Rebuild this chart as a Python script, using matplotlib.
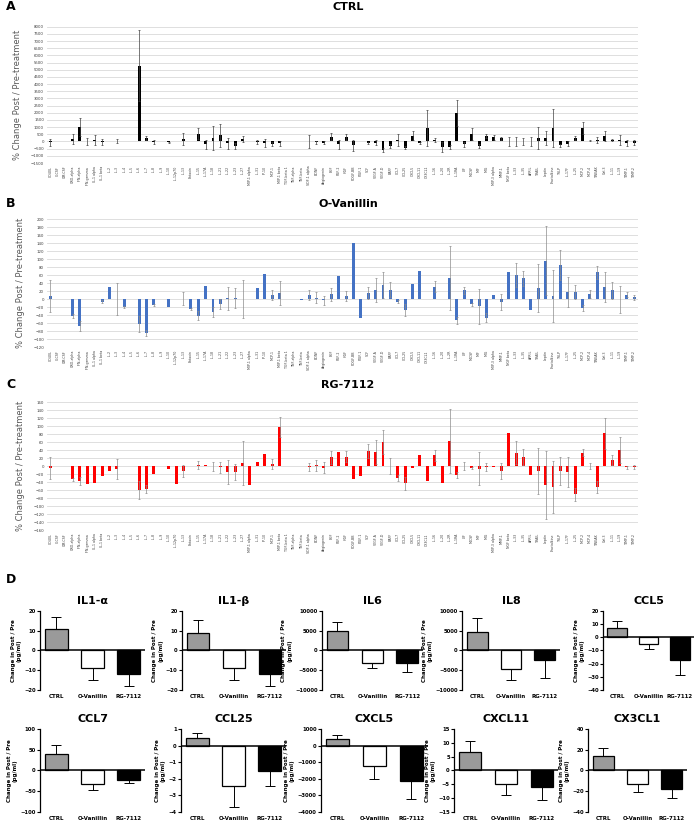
import numpy as np
import matplotlib
matplotlib.use("Agg")
import matplotlib.pyplot as plt

W, H = 696, 821
nan = np.nan

# analyte names on the x axis (panels A-C)
analytes = [
    "CD40L", "G-CSF", "GM-CSF", "GRO-alpha", "IFN-alpha", "IFN-gamma", "IL-1 alpha", "IL-1 beta",
    "IL-2", "IL-3", "IL-4", "IL-5", "IL-6", "IL-7", "IL-8", "IL-9", "IL-10", "IL-12p70", "IL-13", "Eotaxin",
    "IL-15", "IL-17A", "IL-18", "IL-21", "IL-22", "IL-23", "IL-27", "MIP-1 alpha", "IL-31", "IP-10",
    "MCP-1", "MIP-1 beta", "TGF-beta 1", "TNF-alpha", "TNF-beta", "SDF-1 alpha", "BDNF", "Angiogenin", "EGF", "FGF-2",
    "HGF", "PDGF-BB", "PlGF-1", "SCF", "VEGF-A", "VEGF-D", "BAFF", "CCL7", "CCL25", "CXCL5",
    "CXCL11", "CX3CL1", "IL-16", "IL-20", "IL-2R", "IL-1RA", "LIF", "M-CSF", "MIF", "MIG",
    "MIP-3 alpha", "MMP-1", "NGF beta", "IL-33", "IL-35", "APRIL", "TRAIL", "Leptin", "Fractalkine", "TSLP",
    "IL-17F", "IL-25", "MCP-2", "MCP-4", "TWEAK", "Gal-3", "IL-11", "IL-19", "TIMP-1", "TIMP-2"]

ctrl_pct = [-50, nan, nan, 140, 1000, 0, 100, -50, nan, 40,
            nan, nan, 5280, 250, -30, nan, -50, nan, 190, nan,
            535, -210, 250, 440, -140, -300, 190, nan, -50, -100,
            -200, -130, nan, nan, nan, 0, -70, -80, 330, -190,
            330, -280, nan, -100, -80, -600, -320, 90, -420, 400,
            -100, 930, 100, -400, -370, 1980, -200, 510, -300, 400,
            280, 210, 0, 0, 0, 0, 250, 250, 930, -280,
            -150, 230, 930, 50, 120, 370, 80, 100, -100, -80]
ctrl_err = [250, 0, 0, 350, 630, 250, 380, 200, 0, 150,
            0, 0, 2490, 150, 150, 0, 30, 0, 420, 0,
            370, 330, 850, 810, 350, 200, 200, 0, 150, 250,
            130, 180, 0, 0, 0, 450, 80, 80, 230, 300,
            200, 370, 0, 80, 150, 120, 150, 400, 80, 300,
            80, 1230, 120, 330, 120, 900, 150, 420, 150, 150,
            150, 100, 300, 300, 250, 330, 770, 500, 1330, 120,
            150, 140, 400, 50, 200, 350, 80, 350, 200, 150]

ov_pct = [8, nan, nan, -43, -67, nan, nan, -6, 30, 0,
          -20, nan, -62, -85, -15, nan, -19, nan, 1, -24,
          -41, 32, -32, -12, 2, 2, 0, nan, 28, 62,
          11, 15, nan, nan, -2, 10, 4, -3, 12, 58,
          8, 140, -48, 15, 22, 36, 24, -6, -28, 37,
          70, nan, 31, nan, 54, -53, 22, -13, -18, -46,
          11, -8, 68, 61, 52, -27, 28, 96, 8, 85,
          18, 18, -22, 13, 67, 31, 22, 0, 11, 5]
ov_err = [40, 0, 0, 5, 12, 0, 0, 3, 0, 40,
          2, 0, 21, 7, 2, 0, 0, 0, 16, 2,
          12, 0, 12, 12, 28, 25, 48, 0, 0, 0,
          12, 30, 0, 0, 0, 12, 14, 12, 16, 0,
          12, 0, 0, 15, 30, 32, 18, 4, 15, 0,
          0, 0, 14, 0, 80, 8, 8, 3, 43, 12,
          0, 20, 0, 30, 19, 0, 59, 86, 64, 38,
          37, 18, 8, 10, 16, 38, 21, 34, 6, 6]

rg_pct = [-5, nan, nan, -33, -37, -45, -41, -24, -13, -7,
          nan, nan, -59, -57, -19, nan, -7, -44, -12, nan,
          3, 2, 0, -3, -15, -14, 8, -46, 11, 31,
          5, 99, nan, nan, nan, -2, 2, -4, 22, 35,
          24, -32, -24, 38, 36, 61, 1, -29, -43, -4,
          27, -36, 27, -41, 63, -22, 0, -4, -6, -3,
          -3, -12, 83, 34, 22, -21, -12, -47, -52, -13,
          -15, -70, 34, 0, -51, 83, 15, 40, -3, -3]
rg_err = [28, 0, 0, 3, 11, 0, 0, 0, 0, 24,
          0, 0, 23, 10, 0, 0, 0, 0, 15, 0,
          10, 0, 11, 13, 30, 20, 55, 0, 0, 0,
          12, 25, 0, 0, 0, 9, 14, 14, 16, 0,
          14, 0, 0, 17, 30, 30, 20, 7, 17, 0,
          0, 0, 14, 0, 80, 8, 10, 3, 42, 10,
          0, 20, 0, 29, 20, 0, 57, 86, 64, 35,
          37, 16, 8, 7, 15, 39, 13, 33, 4, 5]

# panel D: mean change (pg/ml) and SEM for CTRL, O-Vanillin, RG-7112
groups = ["CTRL", "O-Vanillin", "RG-7112"]
d_titles = ["IL1-\u03b1", "IL1-\u03b2", "IL6", "IL8", "CCL5",
            "CCL7", "CCL25", "CXCL5", "CXCL11", "CX3CL1"]
d_means = [[11, -9, -12], [9, -9, -12], [4800, -3100, -3100], [4600, -4700, -2400], [6.8, -4.9, -17],
           [41, -32, -23], [0.45, -2.42, -1.56], [410, -1220, -2160], [6.8, -5.1, -6.2], [14.3, -13, -18.5]]
d_errs = [[6, 6, 6], [6.5, 6, 6], [2270, 1450, 2350], [3600, 2700, 4600], [5.2, 4.1, 12],
          [20, 15, 8], [0.32, 1.28, 0.86], [220, 820, 1110], [3.8, 4.0, 4.6], [7.7, 8.5, 8.5]]
d_ylims = [(-20, 20), (-20, 20), (-10000, 10000), (-10000, 10000), (-40, 20),
           (-100, 100), (-4, 1), (-4000, 1000), (-15, 15), (-40, 40)]
d_steps = [10, 10, 5000, 5000, 10, 50, 1, 1000, 5, 20]

fig = plt.figure(figsize=(W / 100, H / 100), dpi=100)


def px_axes(x0, y0, x1, y1):
    return fig.add_axes([x0 / W, 1 - y1 / H, (x1 - x0) / W, (y1 - y0) / H])


def pct_panel(top, bottom, vals, errs, ylim, step, color, ecolor, letter, title, ty):
    ax = px_axes(46.7, top, 638, bottom)
    x = np.arange(len(analytes))
    vals = np.array(vals, dtype=float)
    errs = np.array(errs, dtype=float)
    ax.bar(x, vals, width=0.4, color=color, zorder=3)
    m = (errs > 0) & ~np.isnan(vals)
    ax.errorbar(x[m], vals[m], yerr=errs[m], fmt="none", ecolor=ecolor,
                elinewidth=0.5, capsize=0.8, capthick=0.5, zorder=4)
    ax.set_xlim(-0.5, len(analytes) - 0.5)
    ax.set_ylim(*ylim)
    ax.set_yticks(np.arange(ylim[0], ylim[1] + step / 2, step))
    ax.yaxis.grid(True, color="#d9d9d9", lw=0.6, zorder=0)
    for s in ax.spines.values():
        s.set_visible(False)
    ax.set_xticks(x)
    ax.set_xticklabels(analytes, rotation=90, fontsize=2.3, color="#404040")
    ax.tick_params(axis="both", length=0, pad=2)
    ax.tick_params(axis="y", labelsize=2.8, labelcolor="#404040")
    ax.set_ylabel("% Change Post / Pre-treatment", fontsize=6, color="#595959", labelpad=6)
    fig.text(6 / W, 1 - (ty - 2) / H, letter, fontsize=9, fontweight="bold", va="top")
    fig.text(348 / W, 1 - ty / H, title, fontsize=8, fontweight="bold", va="top", ha="center")
    return ax


pct_panel(26.7, 163, ctrl_pct, ctrl_err, (-1500, 8000), 500, "black", "#404040", "A", "CTRL", 2)
pct_panel(219.3, 347.3, ov_pct, ov_err, (-120, 200), 20, "#4472C4", "#8c8c8c", "B", "O-Vanillin", 199)
pct_panel(402.3, 530.3, rg_pct, rg_err, (-160, 160), 20, "#FF0000", "#8c8c8c", "C", "RG-7112", 380)

fig.text(6 / W, 1 - 573 / H, "D", fontsize=9, fontweight="bold", va="top")

# pixel boxes of the ten small panels
d_boxes = [(40, 610.7, 145, 690), (181.7, 610.7, 286, 690), (321.7, 610.7, 423, 690),
           (462, 610.7, 560, 690), (603, 610.7, 694, 690),
           (40, 729.3, 145, 811.5), (181, 729.3, 286, 811.5), (320.7, 729.3, 428, 811.5),
           (454, 729.3, 558, 811.5), (588, 729.3, 687, 811.5)]
bar_colors = ["#9a9a9a", "white", "black"]

for k in range(10):
    x0, y0, x1, y1 = d_boxes[k]
    ax = px_axes(x0, y0, x1, y1)
    means = np.array(d_means[k])
    errs = np.array(d_errs[k])
    xs = np.arange(3)
    ax.bar(xs, means, width=0.62, color=bar_colors, edgecolor="black", linewidth=0.9, zorder=3)
    lo = np.where(means < 0, errs, 0)
    hi = np.where(means > 0, errs, 0)
    ax.errorbar(xs, means, yerr=[lo, hi], fmt="none", ecolor="black",
                elinewidth=0.7, capsize=3.5, capthick=0.7, zorder=2)
    ax.axhline(0, color="black", lw=1.1, zorder=4)
    ax.set_xlim(-0.45, 2.45)
    lo_y, hi_y = d_ylims[k]
    ax.set_ylim(lo_y, hi_y)
    ax.set_yticks(np.arange(lo_y, hi_y + d_steps[k] / 2, d_steps[k]))
    for s in ["top", "right", "bottom"]:
        ax.spines[s].set_visible(False)
    ax.spines["left"].set_linewidth(0.9)
    ax.set_xticks(xs)
    ax.set_xticklabels(groups, fontsize=4.0, fontweight="bold")
    ax.tick_params(axis="x", length=0, pad=3)
    ax.tick_params(axis="y", length=2, width=0.8, labelsize=3.8, pad=1)
    for t in ax.get_yticklabels():
        t.set_fontweight("bold")
    ax.set_ylabel("Change in Post / Pre\n(pg/ml)", fontsize=4.0, fontweight="bold", labelpad=2)
    ax.set_title(d_titles[k], fontsize=8, fontweight="bold", pad=5)

fig.savefig("out.png", dpi=100)
